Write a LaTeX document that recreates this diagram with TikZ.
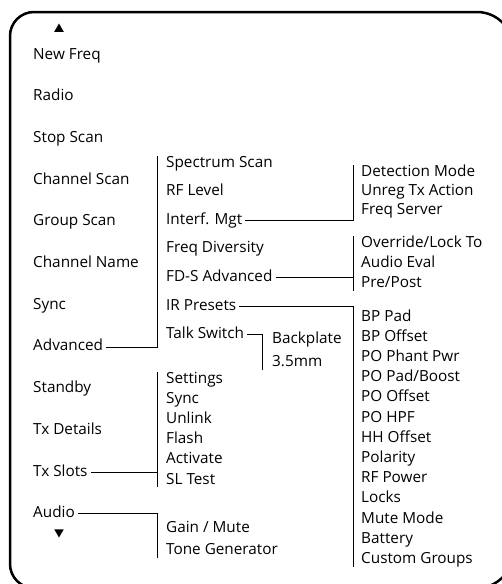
\documentclass[tikz,border=0pt]{standalone}
\usepackage{fontspec}
\setmainfont{Open Sans}
\usetikzlibrary{positioning,shapes.geometric}

\begin{document}
\begin{tikzpicture}[
  x=1pt, y=-1pt,
  item/.style={anchor=west, inner xsep=3pt, inner ysep=0pt, text height=11pt, text depth=3pt,
    font=\fontsize{15.3}{18}\selectfont},
  under/.style 2 args={below=#1 of #2.south west, anchor=north west},
  link/.style={line width=0.8pt},
  arrowhead/.style={regular polygon, regular polygon sides=3, fill, draw=none, inner sep=0pt, minimum size=11pt}
]
  \useasboundingbox (0,0) rectangle (502,584);
  \clip (0,0) rectangle (502,584);

  % device outline
  \draw[line width=2.5pt] (10,300) [rounded corners=24pt] -- (10,12) -- (260,12)
    [rounded corners=36pt] -- (513,12) -- (513,588) -- (260,588)
    [rounded corners=24pt] -- (10,588) -- cycle;

  % main menu
  \node[arrowhead] (up) at (59,29) {};
  \node[item] (newfreq) at (30,55) {New Freq};
  \node[item, under={27.3pt}{newfreq}] (radio) {Radio};
  \node[item, under={27.3pt}{radio}] (stopscan) {Stop Scan};
  \node[item, under={27.3pt}{stopscan}] (chscan) {Channel Scan};
  \node[item, under={27.3pt}{chscan}] (grpscan) {Group Scan};
  \node[item, under={27.3pt}{grpscan}] (chname) {Channel Name};
  \node[item, under={27.3pt}{chname}] (sync) {Sync};
  \node[item, under={27.3pt}{sync}] (adv) {Advanced};
  \node[item, under={27.3pt}{adv}] (standby) {Standby};
  \node[item, under={27.3pt}{standby}] (txdet) {Tx Details};
  \node[item, under={27.3pt}{txdet}] (txslots) {Tx Slots};
  \node[item, under={27.3pt}{txslots}] (audio) {Audio};
  \node[arrowhead, shape border rotate=180] (down) at (59,532) {};

  % Advanced
  \node[item] (spec) at (163,163) {Spectrum Scan};
  \node[item, under={14.2pt}{spec}] (rflevel) {RF Level};
  \node[item, under={14.2pt}{rflevel}] (interf) {Interf. Mgt};
  \node[item, under={14.2pt}{interf}] (freqdiv) {Freq Diversity};
  \node[item, under={14.2pt}{freqdiv}] (fds) {FD-S Advanced};
  \node[item, under={14.2pt}{fds}] (irp) {IR Presets};
  \node[item, under={14.2pt}{irp}] (talk) {Talk Switch};

  % Tx Slots
  \node[item] (settings) at (163,379) {Settings};
  \node[item, under={5.8pt}{settings}] (txsync) {Sync};
  \node[item, under={5.8pt}{txsync}] (unlink) {Unlink};
  \node[item, under={5.8pt}{unlink}] (flash) {Flash};
  \node[item, under={5.8pt}{flash}] (activate) {Activate};
  \node[item, under={5.8pt}{activate}] (sltest) {SL Test};

  % Audio
  \node[item] (gain) at (163,528) {Gain / Mute};
  \node[item, under={8pt}{gain}] (tone) {Tone Generator};

  % Interf. Mgt
  \node[item] (detect) at (358,172) {Detection Mode};
  \node[item, under={5pt}{detect}] (unreg) {Unreg Tx Action};
  \node[item, under={5pt}{unreg}] (fserver) {Freq Server};

  % FD-S Advanced
  \node[item] (override) at (358,243) {Override/Lock To};
  \node[item, under={6pt}{override}] (audeval) {Audio Eval};
  \node[item, under={6pt}{audeval}] (prepost) {Pre/Post};

  % IR Presets
  \node[item] (bppad) at (358,317) {BP Pad};
  \node[item, under={5.8pt}{bppad}] (bpoffset) {BP Offset};
  \node[item, under={5.8pt}{bpoffset}] (phant) {PO Phant Pwr};
  \node[item, under={5.8pt}{phant}] (padboost) {PO Pad/Boost};
  \node[item, under={5.8pt}{padboost}] (pooffset) {PO Offset};
  \node[item, under={5.8pt}{pooffset}] (pohpf) {PO HPF};
  \node[item, under={5.8pt}{pohpf}] (hhoffset) {HH Offset};
  \node[item, under={5.8pt}{hhoffset}] (polarity) {Polarity};
  \node[item, under={5.8pt}{polarity}] (rfpower) {RF Power};
  \node[item, under={5.8pt}{rfpower}] (locks) {Locks};
  \node[item, under={5.8pt}{locks}] (mutemode) {Mute Mode};
  \node[item, under={5.8pt}{mutemode}] (battery) {Battery};
  \node[item, under={5.8pt}{battery}] (custom) {Custom Groups};

  % Talk Switch
  \node[item] (backplate) at (269,339) {Backplate};
  \node[item, under={9pt}{backplate}] (mm) {3.5mm};

  % connectors
  \coordinate (advbar) at ([xshift=-6pt]spec.north west);
  \draw[link] (adv.east) -| (advbar);

  \coordinate (txtop) at ([xshift=-6pt]settings.north west);
  \coordinate (txbot) at ([xshift=-6pt]sltest.south west);
  \draw[link] (txtop) -- (txbot);
  \draw[link] (txslots.east) -- (txslots.east -| txtop);

  \coordinate (audbar) at ([xshift=-6pt]tone.south west);
  \draw[link] (audio.east) -| (audbar);

  \coordinate (intbar) at ([xshift=-5pt]detect.north west);
  \draw[link] (interf.east) -| (intbar);

  \coordinate (fdtop) at ([xshift=-5pt]override.north west);
  \coordinate (fdbot) at ([xshift=-5pt]prepost.south west);
  \draw[link] (fdtop) -- (fdbot);
  \draw[link] (fds.east) -- (fds.east -| fdtop);

  \coordinate (irbar) at ([xshift=-5pt]custom.south west);
  \draw[link] (irp.east) -| (irbar);

  \coordinate (tlkbar) at ([xshift=-7pt]mm.south west);
  \draw[link] (talk.east) -| (tlkbar);
\end{tikzpicture}
\end{document}
